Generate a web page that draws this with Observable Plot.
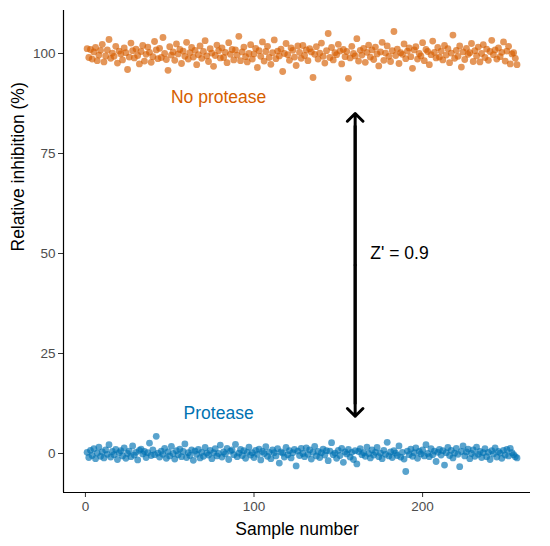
<!DOCTYPE html>
<html>
<head>
<meta charset="utf-8">
<script src="https://cdn.jsdelivr.net/npm/d3@7"></script>
<script src="https://cdn.jsdelivr.net/npm/@observablehq/plot@0.6"></script>
<style>
  html, body { margin: 0; padding: 0; background: #fff; }
  #chart svg { display: block; }
</style>
</head>
<body>
<div id="chart"></div>
<script>
// No protease (orange) relative inhibition, samples 1..256
const noProtease = [
  101.2, 99.0, 101.0, 98.6, 100.4, 101.5, 98.2, 99.6, 100.8, 102.3, 97.9, 99.4, 100.9, 103.5, 98.8, 100.1,
  99.3, 101.8, 97.6, 100.6, 99.9, 98.4, 101.4, 100.2, 96.0, 99.1, 102.6, 100.7, 98.9, 101.1, 99.5, 97.4,
  100.5, 102.0, 98.1, 99.8, 101.6, 100.3, 97.8, 99.2, 103.0, 100.9, 98.7, 101.3, 99.0, 104.0, 100.0, 98.5,
  95.8, 101.7, 99.6, 100.4, 98.3, 102.4, 99.9, 101.0, 97.5, 100.6, 99.3, 102.8, 98.6, 100.2, 101.5, 99.1,
  100.8, 97.2, 99.7, 101.9, 98.8, 100.5, 103.2, 99.4, 98.0, 101.2, 100.1, 96.8, 99.5, 102.1, 100.7, 98.9,
  101.4, 99.0, 100.3, 97.7, 102.7, 99.8, 101.0, 98.4, 100.9, 99.6, 104.3, 98.2, 100.4, 101.6, 99.2, 97.9,
  100.0, 102.2, 98.6, 99.9, 101.3, 96.5, 100.7, 99.3, 102.9, 98.1, 100.5, 101.8, 99.0, 97.3, 100.2, 103.4,
  98.7, 100.6, 99.4, 101.1, 95.5, 100.0, 102.5, 99.7, 98.3, 101.4, 100.8, 99.1, 97.0, 101.9, 100.3, 98.8,
  102.0, 99.5, 100.9, 98.2, 101.2, 100.4, 94.0, 99.8, 101.7, 98.6, 100.1, 102.6, 99.3, 97.6, 100.7, 105.0,
  99.0, 101.5, 98.4, 100.2, 99.7, 102.3, 100.6, 97.4, 101.0, 99.2, 100.5, 93.8, 98.9, 101.8, 100.0, 99.4,
  103.7, 98.1, 100.8, 99.6, 101.3, 97.8, 100.3, 102.1, 99.1, 100.9, 98.5, 101.6, 99.9, 96.9, 100.4, 102.8,
  98.3, 100.1, 101.9, 99.3, 98.0, 100.7, 105.5, 99.5, 101.1, 97.5, 100.2, 99.8, 102.4, 98.7, 100.6, 101.4,
  99.2, 96.3, 100.9, 101.7, 98.6, 100.0, 99.4, 102.7, 98.2, 101.0, 100.5, 97.2, 99.7, 103.1, 100.3, 98.9,
  101.5, 99.1, 100.6, 98.4, 102.0, 99.6, 101.2, 97.7, 100.1, 104.6, 98.8, 100.8, 99.3, 101.9, 96.6, 100.4,
  98.5, 101.3, 99.8, 100.2, 102.5, 98.0, 100.7, 99.4, 101.6, 97.9, 100.0, 102.2, 99.0, 101.1, 98.3, 100.5,
  103.3, 99.7, 100.9, 98.6, 101.4, 99.2, 100.3, 102.9, 98.1, 100.6, 101.8, 97.4, 99.9, 100.2, 98.8, 97.2
];
// Protease (blue) relative inhibition, samples 1..256
const protease = [
  0.3, -1.0, 0.8, -0.5, 1.2, -1.3, 0.1, 1.6, -0.7, 0.4, -1.1, 0.9, -0.2, 2.2, -0.9, 0.5,
  -0.3, 1.0, -1.5, 0.2, 0.7, -0.6, 1.4, -1.2, 0.0, 0.6, -0.8, 1.9, -0.4, 0.3, -1.6, 0.8,
  1.1, -0.1, 0.5, -1.0, 0.2, 2.6, -0.5, 0.9, -0.3, 4.3, 0.1, -0.9, 0.6, -0.2, 1.3, -1.2,
  0.4, -0.6, 1.8, 0.0, -1.4, 0.7, -0.3, 1.1, -0.8, 0.5, 2.4, -1.0, 0.2, -0.5, 0.9, -1.7,
  0.6, -0.2, 1.0, -1.1, 0.3, -0.7, 1.5, 0.1, -0.4, 0.8, -1.3, 0.2, 1.2, -0.6, 0.0, 2.1,
  -0.9, 0.4, -0.1, 1.3, -1.5, 0.6, 0.9, -0.3, 2.3, -0.8, 0.1, 1.0, -0.5, 0.7, -1.2, 0.3,
  1.6, -0.4, 0.2, -1.0, 0.8, -0.2, 1.1, -1.6, 0.5, 0.0, 1.7, -0.7, 0.3, -1.3, 0.9, 0.2,
  -0.6, 1.2, -2.4, 0.4, 0.1, -0.9, 1.5, -0.3, 0.7, -1.1, 0.2, 1.0, -3.1, 0.6, -0.5, 1.3,
  0.0, -0.8, 1.4, -0.2, 0.9, -1.4, 0.3, 1.8, -0.6, 0.5, -1.0, 0.2, 1.1, -0.4, 0.7, -1.8,
  0.6, 2.7, -0.3, 0.1, -1.2, 0.8, -0.5, 1.3, -2.2, 0.4, -0.1, 1.0, -0.9, 0.3, -1.5, 0.7,
  -2.6, 0.5, 1.2, -0.3, 0.2, -0.7, 1.6, 0.0, -1.1, 0.9, -0.4, 0.3, 1.5, -0.8, 0.1, -1.3,
  0.8, -0.2, 2.8, -0.6, 0.4, -1.0, 0.7, 0.1, -0.5, 1.9, -0.9, 0.3, -1.4, -4.5, 0.6, -0.3,
  1.1, -0.7, 0.2, 1.4, -1.2, 0.5, -0.1, 0.9, -0.6, 2.2, 0.0, -0.8, 1.2, -0.3, 0.6, -2.0,
  0.3, 1.0, -0.4, 0.7, -2.9, 0.2, 1.5, -0.5, 0.8, -1.1, 0.1, 1.3, -0.2, -3.3, 0.5, 1.9,
  -0.6, 0.4, 1.1, -1.3, 0.0, 0.9, -0.7, 1.6, -0.2, 0.5, -1.0, 0.2, 1.2, -0.8, 0.3, -1.5,
  0.7, -0.1, 1.4, -0.9, 0.5, 0.1, -1.2, 0.8, -0.4, 1.0, -0.6, 1.3, 0.2, -0.3, -0.8, -1.1
];
const xTicks = [0, 100, 200];
const yTicks = [0, 25, 50, 75, 100];
const xDomain = [-13, 264];
const yDomain = [-9.75, 110.75];
const seriesLabels = ["No protease", "Protease"];
const labelX = [79, 79];
const labelY = [89, 10];
const arrowX = 160;
const arrowYTop = 85;
const arrowYBottom = 9.3;
const zText = "Z' = 0.9";
const zTextX = 169;
const zTextY = 50;

const orange = "#D55E00";
const blue = "#0072B2";

const ptsNo = noProtease.map((v, i) => ({x: i + 1, y: v}));
const ptsP = protease.map((v, i) => ({x: i + 1, y: v}));
const arrowMid = (arrowYTop + arrowYBottom) / 2;

const chart = Plot.plot({
  width: 550,
  height: 546,
  marginLeft: 63,
  marginRight: 20,
  marginTop: 10,
  marginBottom: 54,
  style: {fontFamily: "'Liberation Sans', Arial, sans-serif", background: "#fff"},
  x: {domain: xDomain},
  y: {domain: yDomain},
  marks: [
    Plot.dot(ptsNo, {x: "x", y: "y", r: 3.4, fill: orange, fillOpacity: 0.65, stroke: "none"}),
    Plot.dot(ptsP, {x: "x", y: "y", r: 3.4, fill: blue, fillOpacity: 0.65, stroke: "none"}),
    Plot.text([seriesLabels[0]], {x: [labelX[0]], y: [labelY[0]], text: d => d, fill: orange, fontSize: 17.5, textAnchor: "middle"}),
    Plot.text([seriesLabels[1]], {x: [labelX[1]], y: [labelY[1]], text: d => d, fill: blue, fontSize: 17.5, textAnchor: "middle"}),
    Plot.link([{y1: arrowYBottom + 3, y2: arrowYTop - 3}], {
      x1: () => arrowX, x2: () => arrowX, y1: "y1", y2: "y2",
      stroke: "black", strokeWidth: 3
    }),
    Plot.arrow([{y1: arrowMid, y2: arrowYTop}, {y1: arrowMid, y2: arrowYBottom}], {
      x1: () => arrowX, x2: () => arrowX, y1: "y1", y2: "y2",
      stroke: "black", strokeWidth: 3, headLength: 5.5, headAngle: 90
    }),
    Plot.text([zText], {x: [zTextX], y: [zTextY], text: d => d, fill: "black", fontSize: 17.5, textAnchor: "start"}),
    Plot.axisX({ticks: xTicks, tickSize: 5, tickPadding: 4, fontSize: 13.5, color: "#4d4d4d", stroke: "#333", label: null}),
    Plot.axisY({ticks: yTicks, tickSize: 5, tickPadding: 3, fontSize: 13.5, color: "#4d4d4d", stroke: "#333", label: null}),
    Plot.ruleX([xDomain[0]], {stroke: "black", strokeWidth: 1.2}),
    Plot.ruleY([yDomain[0]], {stroke: "black", strokeWidth: 1.2}),
    Plot.text(["Sample number"], {frameAnchor: "bottom", dy: 42, text: d => d, fontSize: 17.5, fill: "black"}),
    Plot.text(["Relative inhibition (%)"], {frameAnchor: "left", dx: -45, rotate: -90, text: d => d, fontSize: 17.5, fill: "black"})
  ]
});
document.getElementById("chart").appendChild(chart);
</script>
</body>
</html>
